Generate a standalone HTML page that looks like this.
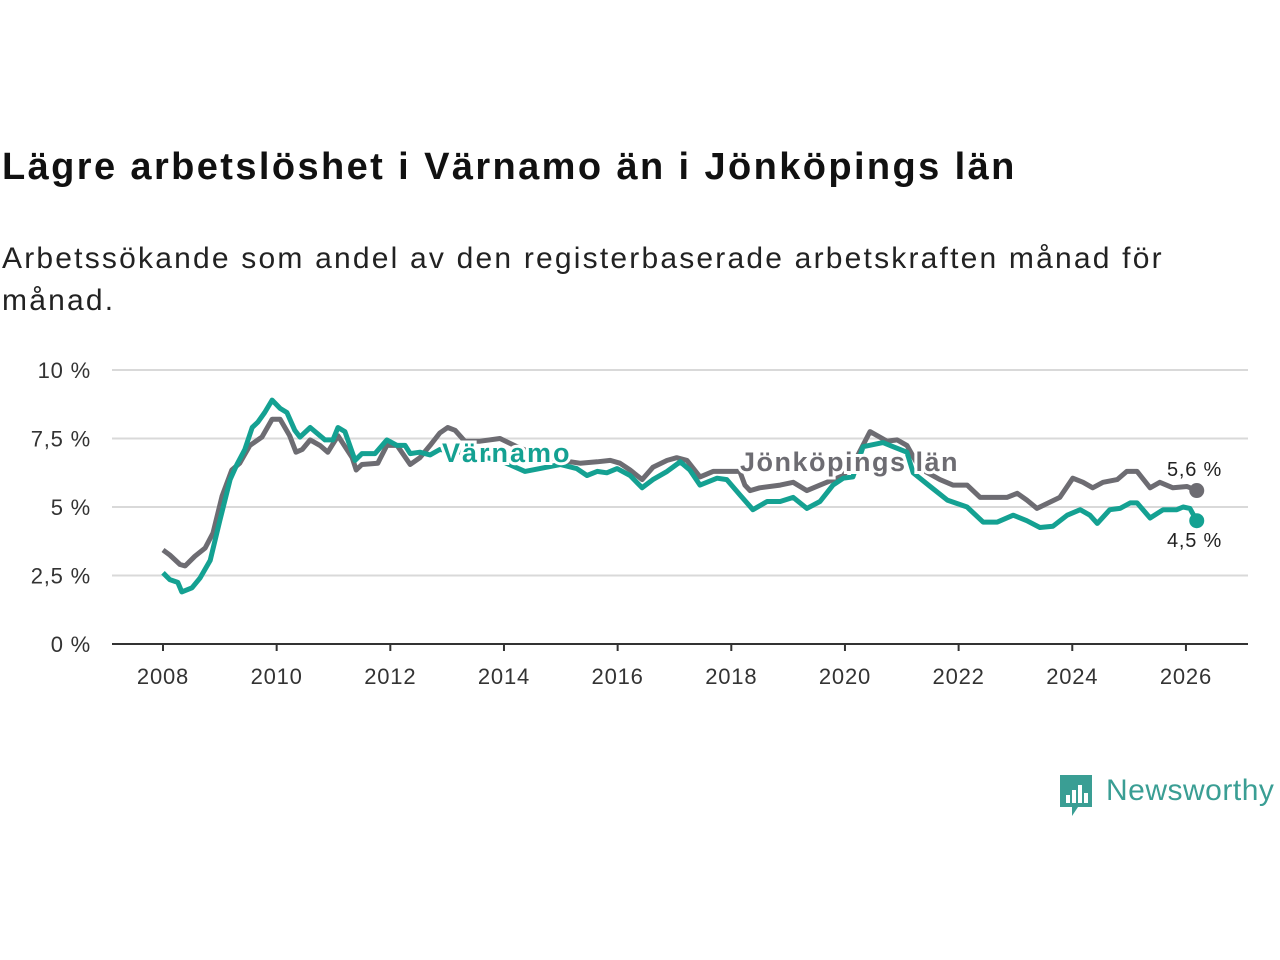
<!DOCTYPE html>
<html><head><meta charset="utf-8"><style>
body{margin:0;background:#fff;width:1280px;height:960px;overflow:hidden;font-family:"Liberation Sans",sans-serif;}
#title{position:absolute;left:2px;top:146px;font-size:38px;font-weight:bold;color:#111;letter-spacing:2.4px;white-space:nowrap;}
#sub{position:absolute;left:2px;top:238px;font-size:30px;line-height:42px;color:#222;width:1190px;letter-spacing:2.2px;}
svg{position:absolute;left:0;top:0;}
</style></head><body>
<div id="title">Lägre arbetslöshet i Värnamo än i Jönköpings län</div>
<div id="sub">Arbetssökande som andel av den registerbaserade arbetskraften månad för månad.</div>
<svg id="chart" width="1280" height="960"></svg>
<script>
const yTicks=[0,2.5,5,7.5,10];
const yTickLabels=["0 %","2,5 %","5 %","7,5 %","10 %"];
const xTicks=[2008,2010,2012,2014,2016,2018,2020,2022,2024,2026];
const jkpgDates=[2008.00,2008.12,2008.30,2008.39,2008.56,2008.74,2008.88,2009.04,2009.21,2009.35,2009.53,2009.74,2009.92,2010.06,2010.23,2010.34,2010.45,2010.59,2010.76,2010.90,2011.08,2011.33,2011.40,2011.50,2011.78,2011.94,2012.12,2012.35,2012.52,2012.70,2012.87,2013.01,2013.14,2013.31,2013.58,2013.93,2014.28,2014.63,2014.99,2015.34,2015.64,2015.87,2016.04,2016.22,2016.43,2016.62,2016.87,2017.04,2017.22,2017.45,2017.68,2017.98,2018.15,2018.24,2018.33,2018.50,2018.86,2019.09,2019.33,2019.56,2019.97,2020.18,2020.44,2020.74,2020.92,2021.09,2021.32,2021.67,2021.90,2022.15,2022.38,2022.85,2023.03,2023.20,2023.38,2023.78,2024.01,2024.19,2024.36,2024.54,2024.79,2024.96,2025.14,2025.37,2025.54,2025.77,2026.02,2026.19];
const jkpgValues=[3.43,3.25,2.9,2.85,3.2,3.5,4.05,5.4,6.35,6.6,7.25,7.55,8.2,8.2,7.6,7.0,7.1,7.45,7.25,7.0,7.6,6.8,6.35,6.55,6.6,7.25,7.25,6.55,6.8,7.25,7.7,7.9,7.8,7.4,7.4,7.5,7.15,6.9,6.7,6.6,6.65,6.7,6.6,6.35,6.0,6.45,6.7,6.8,6.7,6.1,6.3,6.3,6.3,5.8,5.6,5.7,5.8,5.9,5.6,5.8,6.15,6.7,7.75,7.4,7.45,7.25,6.4,6.0,5.8,5.8,5.35,5.35,5.5,5.25,4.95,5.35,6.05,5.9,5.7,5.9,6.0,6.3,6.3,5.7,5.9,5.7,5.75,5.6];
const varDates=[2008.00,2008.12,2008.26,2008.33,2008.51,2008.65,2008.83,2009.00,2009.18,2009.30,2009.44,2009.57,2009.67,2009.79,2009.92,2010.06,2010.18,2010.32,2010.41,2010.59,2010.85,2010.99,2011.08,2011.20,2011.38,2011.50,2011.73,2011.94,2012.12,2012.26,2012.35,2012.52,2012.70,2012.87,2013.23,2013.93,2014.37,2014.63,2014.99,2015.28,2015.46,2015.64,2015.81,2015.99,2016.22,2016.43,2016.62,2016.87,2017.10,2017.27,2017.45,2017.75,2017.92,2018.15,2018.38,2018.63,2018.86,2019.09,2019.33,2019.56,2019.79,2019.97,2020.14,2020.32,2020.67,2021.09,2021.20,2021.50,2021.80,2022.15,2022.43,2022.68,2022.96,2023.20,2023.43,2023.66,2023.91,2024.14,2024.31,2024.44,2024.66,2024.84,2025.02,2025.14,2025.37,2025.60,2025.84,2025.95,2026.07,2026.19];
const varValues=[2.6,2.35,2.25,1.9,2.05,2.4,3.05,4.5,6.0,6.55,7.1,7.9,8.1,8.45,8.9,8.6,8.45,7.8,7.55,7.9,7.45,7.45,7.9,7.75,6.7,6.95,6.95,7.45,7.25,7.25,6.95,7.0,6.9,7.1,7.0,6.7,6.3,6.4,6.55,6.4,6.15,6.3,6.25,6.4,6.15,5.7,6.0,6.3,6.65,6.35,5.8,6.05,6.0,5.45,4.9,5.2,5.2,5.35,4.95,5.2,5.8,6.05,6.1,7.2,7.35,7.0,6.25,5.75,5.25,5.0,4.45,4.45,4.7,4.5,4.25,4.3,4.7,4.9,4.7,4.4,4.9,4.95,5.15,5.15,4.6,4.9,4.9,5.0,4.95,4.5];

const svg=document.getElementById('chart');const NS='http://www.w3.org/2000/svg';
const X=yr=>163+(yr-2008)*56.83;const Y=v=>644-v*27.4;
function mk(t,a,txt){const e=document.createElementNS(NS,t);for(const k in a)e.setAttribute(k,a[k]);if(txt!=null)e.textContent=txt;svg.appendChild(e);return e;}
yTicks.forEach((v,i)=>{
 if(v>0){const g=mk('line',{x1:112,x2:1248,y1:Y(v),y2:Y(v),stroke:'#d9d9d9','stroke-width':2});
 
 }
 const t=mk('text',{x:91,y:Y(v)+8,'text-anchor':'end','font-size':22,fill:'#333','letter-spacing':0.8},yTickLabels[i]);
 
 
});
const ax=mk('line',{x1:112,x2:1248,y1:644,y2:644,stroke:'#333','stroke-width':2});


xTicks.forEach(yr=>{
 const tk=mk('line',{x1:X(yr),x2:X(yr),y1:644,y2:651,stroke:'#333','stroke-width':2});
 
 
 const t=mk('text',{x:X(yr),y:684,'text-anchor':'middle','font-size':22,fill:'#333','letter-spacing':0.8},String(yr));
 
 
});
function line(d,v,c,name){const p=d.map((yr,i)=>(i?'L':'M')+X(yr).toFixed(1)+','+Y(v[i]).toFixed(1)).join('');
 const e=mk('path',{d:p,fill:'none',stroke:c,'stroke-width':5,'stroke-linejoin':'round'});
 
 
 const n=d.length-1;const dot=mk('circle',{cx:X(d[n]),cy:Y(v[n]),r:7.5,fill:c});
 
 }
line(jkpgDates,jkpgValues,'#6d6c72','jonkoping-line');
line(varDates,varValues,'#14a192','varnamo-line');
function lab(x,y,txt,c,name,sz,bold,ls){const t=mk('text',{x:x,y:y,'font-size':sz,'font-weight':bold?'bold':'normal',fill:c,stroke:'#fff','stroke-width':bold?6:0,'paint-order':'stroke','letter-spacing':ls},txt);
 
 }
lab(442,462,'Värnamo','#14a192','varnamo-label',27,true,2.0);
lab(740,471,'Jönköpings län','#6d6c72','jonkoping-label',27,true,1.5);
lab(1167,476,'5,6 %','#222','jonkoping-end-value',20,false,0.8);
lab(1167,547,'4,5 %','#222','varnamo-end-value',20,false,0.8);
</script>
<div style="position:absolute;left:1060px;top:775px;">
<svg width="34" height="42" style="position:absolute;left:0;top:0"><path d="M0 0H32V32H18L12 41V32H0Z" fill="#3a9e94"/><rect x="6" y="20" width="4" height="8" fill="#fff"/><rect x="12" y="15" width="4" height="13" fill="#fff"/><rect x="18" y="10" width="4" height="18" fill="#fff"/><rect x="24" y="18" width="4" height="10" fill="#fff"/></svg>
<div style="position:absolute;left:46px;top:-1px;font-size:30px;color:#3a9e94;white-space:nowrap;letter-spacing:0.5px">Newsworthy</div>
</div>
</body></html>
